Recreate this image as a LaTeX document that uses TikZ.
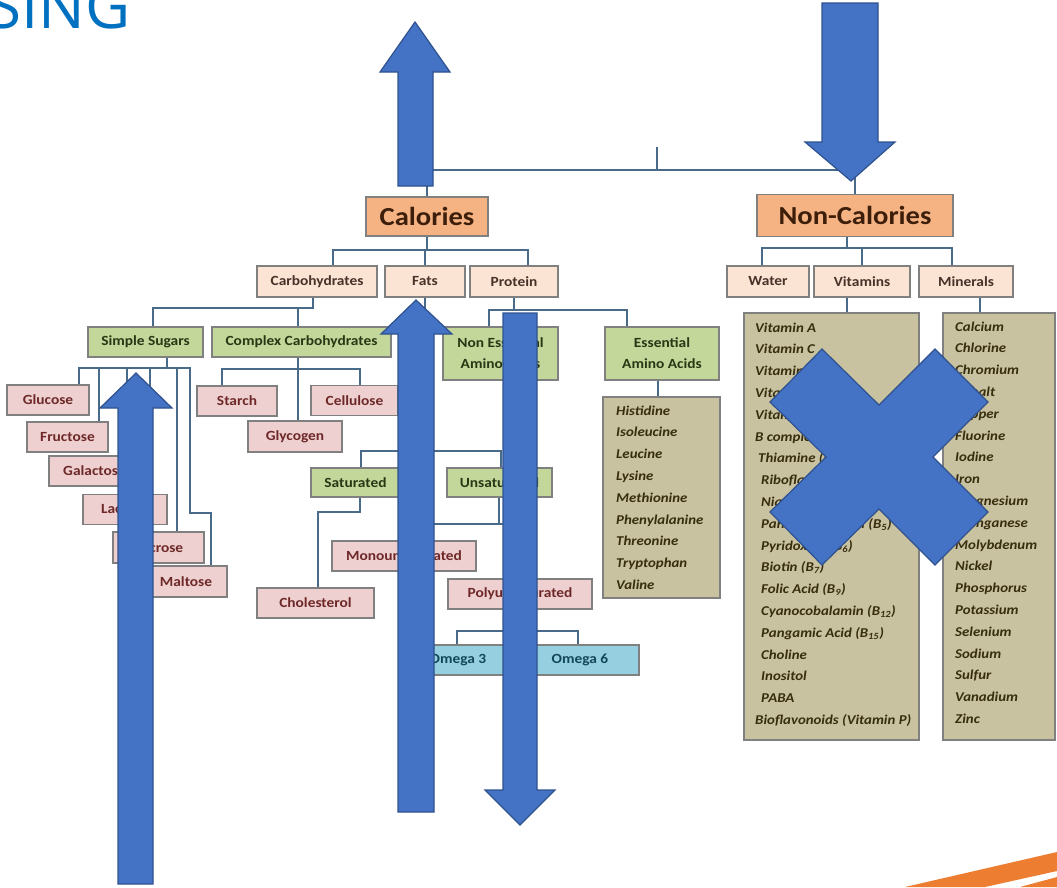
\documentclass[tikz,border=0pt]{standalone}
\usepackage{fontspec}
\setmainfont{Carlito}
\newfontfamily\boxfont[FakeStretch=1.1]{Carlito}
\newfontfamily\titlefont{Open Sans}
\definecolor{linecol}{RGB}{74,106,138}
\definecolor{boxline}{RGB}{128,128,128}
\definecolor{calfill}{RGB}{245,178,130}
\definecolor{peach}{RGB}{252,228,212}
\definecolor{greenfill}{RGB}{196,215,155}
\definecolor{pinkfill}{RGB}{238,208,208}
\definecolor{omegafill}{RGB}{150,208,224}
\definecolor{khaki}{RGB}{201,194,160}
\definecolor{arrowblue}{RGB}{68,114,196}
\definecolor{arrowedge}{RGB}{47,82,143}
\definecolor{titleblue}{RGB}{0,112,192}
\definecolor{accent}{RGB}{237,125,49}
\definecolor{caltext}{RGB}{60,30,10}
\definecolor{peachtext}{RGB}{70,50,40}
\definecolor{greentext}{RGB}{40,55,20}
\definecolor{pinktext}{RGB}{110,40,40}
\definecolor{omegatext}{RGB}{20,70,90}
\definecolor{listtext}{RGB}{55,45,15}
\tikzset{
  basebox/.style={draw=boxline, line width=1.2pt, inner sep=0pt, align=center,
    font=\boxfont\bfseries\fontsize{14}{21}\selectfont},
  calbox/.style={basebox, fill=calfill, text=caltext, font=\boxfont\bfseries\fontsize{26}{30}\selectfont},
  peachbox/.style={basebox, fill=peach, text=peachtext},
  greenbox/.style={basebox, fill=greenfill, text=greentext},
  pinkbox/.style={basebox, fill=pinkfill, text=pinktext},
  omegabox/.style={basebox, fill=omegafill, text=omegatext},
  listbox/.style={draw=boxline, line width=1.2pt, fill=khaki},
  listitem/.style={anchor=west, inner sep=0pt, text=listtext, text height=9pt, text depth=3pt,
    font=\boxfont\bfseries\itshape\fontsize{13.5}{16}\selectfont},
  link/.style={draw=linecol, line width=2.2pt},
  overlay shape/.style={fill=arrowblue, draw=arrowedge, line width=1.2pt, line join=miter}
}
\begin{document}
\begin{tikzpicture}[x=1pt, y=-1pt]
\useasboundingbox (0,0) rectangle (1057,887);
\fill[white] (0,0) rectangle (1057,887);
\begin{scope}
\clip (0,0) rectangle (1057,887);
\node[anchor=base west, inner sep=0pt, text=titleblue, font=\titlefont\fontsize{62}{62}\selectfont] (title) at (-13,28) {SING};
\fill[accent] (905,887) -- (1057,852) -- (1057,871) -- (985,887) -- cycle;
\fill[accent] (1020,887) -- (1057,877) -- (1057,887) -- cycle;
\end{scope}

% ---------- nodes ----------
\node[calbox, minimum width=122, minimum height=39] (calories) at (427,216.5) {Calories};
\node[calbox, minimum width=196, minimum height=42] (noncal) at (855,215.5) {Non-Calories};

\node[peachbox, minimum width=120, minimum height=31] (carbs) at (317,281.5) {Carbohydrates};
\node[peachbox, minimum width=80, minimum height=31] (fats) at (425,281.5) {Fats};
\node[peachbox, minimum width=88, minimum height=31] (protein) at (514,281.5) {Protein};
\node[peachbox, minimum width=82, minimum height=31] (water) at (768,281.5) {Water};
\node[peachbox, minimum width=96, minimum height=31] (vitamins) at (862,281.5) {Vitamins};
\node[peachbox, minimum width=94, minimum height=31] (minerals) at (966,281.5) {Minerals};

\node[greenbox, minimum width=115, minimum height=30] (simple) at (145.5,342) {Simple Sugars};
\node[greenbox, minimum width=179, minimum height=30] (complex) at (301.5,342) {Complex Carbohydrates};
\node[greenbox, minimum width=115, minimum height=53] (neaa) at (500.5,353.5) {Non Essential\\Amino Acids};
\node[greenbox, minimum width=114, minimum height=53] (eaa) at (662,353.5) {Essential\\Amino Acids};
\node[greenbox, minimum width=89, minimum height=29] (sat) at (355.5,482.5) {Saturated};
\node[greenbox, minimum width=105, minimum height=29] (unsat) at (499.5,482.5) {Unsaturated};

\node[pinkbox, minimum width=82, minimum height=30] (glucose) at (48,400) {Glucose};
\node[pinkbox, minimum width=81, minimum height=30] (fructose) at (67.5,437) {Fructose};
\node[pinkbox, minimum width=91, minimum height=30] (galactose) at (94.5,471) {Galactose};
\node[pinkbox, minimum width=84, minimum height=30] (lactose) at (125,509.5) {Lactose};
\node[pinkbox, minimum width=91, minimum height=31] (sucrose) at (158.5,547.5) {Sucrose};
\node[pinkbox, minimum width=82, minimum height=31] (maltose) at (186,581.5) {Maltose};
\node[pinkbox, minimum width=80, minimum height=30] (starch) at (237,401) {Starch};
\node[pinkbox, minimum width=87, minimum height=30] (cellulose) at (354.5,400.5) {Cellulose};
\node[pinkbox, minimum width=94, minimum height=31] (glycogen) at (295,436.5) {Glycogen};
\node[pinkbox, minimum width=117, minimum height=30] (chol) at (315.5,603) {Cholesterol};
\node[pinkbox, minimum width=144, minimum height=30] (mono) at (404,556) {Monounsaturated};
\node[pinkbox, minimum width=144, minimum height=30] (poly) at (520,594) {Polyunsaturated};

\node[omegabox, minimum width=118, minimum height=30] (omega3) at (458,660) {Omega 3};
\node[omegabox, minimum width=118, minimum height=30] (omega6) at (580,660) {Omega 6};

\node[listbox, minimum width=117, minimum height=201] (eaalist) at (661.5,497.5) {};
\node[listbox, minimum width=175, minimum height=427] (vitlist) at (831.5,526.5) {};
\node[listbox, minimum width=112, minimum height=427] (minlist) at (999,526.5) {};

\foreach \t [count=\i from 0] in {Histidine, Isoleucine, Leucine, Lysine, Methionine, Phenylalanine, Threonine, Tryptophan, Valine}
  \node[listitem] (eaa\i) at (616,{412+21.8*\i}) {\t};
\foreach \t [count=\i from 0] in {Vitamin A, Vitamin C, Vitamin D, Vitamin E, Vitamin K, B complex,
  \hspace*{3pt}Thiamine (B\textsubscript{1}), \hspace*{6pt}Riboflavin (B\textsubscript{2}),
  \hspace*{6pt}Niacin (B\textsubscript{3}), \hspace*{6pt}Pantothenic Acid (B\textsubscript{5}),
  \hspace*{6pt}Pyridoxine (B\textsubscript{6}), \hspace*{6pt}Biotin (B\textsubscript{7}),
  \hspace*{6pt}Folic Acid (B\textsubscript{9}), \hspace*{6pt}Cyanocobalamin (B\textsubscript{12}),
  \hspace*{6pt}Pangamic Acid (B\textsubscript{15}), \hspace*{6pt}Choline, \hspace*{6pt}Inositol,
  \hspace*{6pt}PABA, Bioflavonoids (Vitamin P)}
  \node[listitem] (vit\i) at (755,{329+21.8*\i}) {\t};
\foreach \t [count=\i from 0] in {Calcium, Chlorine, Chromium, Cobalt, Copper, Fluorine, Iodine, Iron, Magnesium, Manganese, Molybdenum, Nickel, Phosphorus, Potassium, Selenium, Sodium, Sulfur, Vanadium, Zinc}
  \node[listitem] (min\i) at (955,{328+21.8*\i}) {\t};

% ---------- connectors ----------
\coordinate (root) at (657,147);
\draw[link] (root) -- (657,170);
\draw[link] (calories.north) |- (noncal.north |- 0,170) -- (noncal.north);

\draw[link] (calories.south) -- (calories.south |- 0,250);
\draw[link] (carbs.north -| 333,0) -- (333,250) -- (528,250) -- (protein.north -| 528,0);
\draw[link] (fats.north) -- (fats.north |- 0,250);

\draw[link] (carbs.south -| 313,0) -- (313,308) -| (simple.north -| 153,0);
\draw[link] (298,308) -- (complex.north -| 298,0);

\draw[link] (simple.south -| 167,0) -- (167,368);
\draw[link] (glucose.north -| 79,0) |- (190,368) -- (190,513) -- (211,513) -- (maltose.north -| 211,0);
\draw[link] (99,368) -- (fructose.north -| 99,0);
\draw[link] (127,368) -- (galactose.north -| 127,0);
\draw[link] (150,368) -- (lactose.north -| 150,0);
\draw[link] (177,368) -- (sucrose.north -| 177,0);

\draw[link] (complex.south -| 298,0) -- (glycogen.north -| 298,0);
\draw[link] (starch.north -| 222,0) |- (360,369) -- (cellulose.north -| 360,0);

\draw[link] (fats.south) -- (fats.south |- 0,451);
\draw[link] (sat.north -| 361,0) |- (501,451) -- (unsat.north -| 501,0);
\draw[link] (sat.south -| 360,0) -- (360,512) -| (chol.north -| 318,0);
\draw[link] (unsat.south -| 499,0) -- (499,524);
\draw[link] (mono.north -| 415,0) |- (520,524) -- (poly.north -| 520,0);
\draw[link] (poly.south -| 518,0) -- (518,631);
\draw[link] (omega3.north -| 457,0) |- (578,631) -- (omega6.north -| 578,0);

\draw[link] (protein.south) -- (protein.south |- 0,310);
\draw[link] (neaa.north -| 489,0) |- (627,310) -- (eaa.north -| 627,0);
\draw[link] (eaa.south -| 658,0) -- (eaalist.north -| 658,0);

\draw[link] (noncal.south -| 847,0) -- (847,248);
\draw[link] (water.north -| 762,0) |- (952,248) -- (minerals.north -| 952,0);
\draw[link] (vitamins.north -| 862,0) -- (862,248);
\draw[link] (vitamins.south -| 847,0) -- (vitlist.north -| 847,0);
\draw[link] (minerals.south -| 980,0) -- (minlist.north -| 980,0);

% ---------- overlay shapes ----------
\draw[overlay shape] (415,22) -- (450,72) -- (433,72) -- (433,186) -- (398,186) -- (398,72) -- (380,72) -- cycle;
\draw[overlay shape] (416,300) -- (452,334) -- (434,334) -- (434,812) -- (398,812) -- (398,334) -- (381,334) -- cycle;
\draw[overlay shape] (136,373) -- (172,408) -- (153,408) -- (153,884) -- (118,884) -- (118,408) -- (100,408) -- cycle;
\draw[overlay shape] (503,313) -- (537,313) -- (537,790) -- (555,790) -- (520,825) -- (485,790) -- (503,790) -- cycle;
\draw[overlay shape] (822,3) -- (878,3) -- (878,142) -- (895,142) -- (851,181) -- (805,142) -- (822,142) -- cycle;
\draw[overlay shape] (879,405) -- (935,349) -- (988,402) -- (933,457) -- (988,512) -- (935,565)
  -- (879,509) -- (822,565) -- (770,512) -- (826,457) -- (770,402) -- (822,349) -- cycle;
\end{tikzpicture}
\end{document}
